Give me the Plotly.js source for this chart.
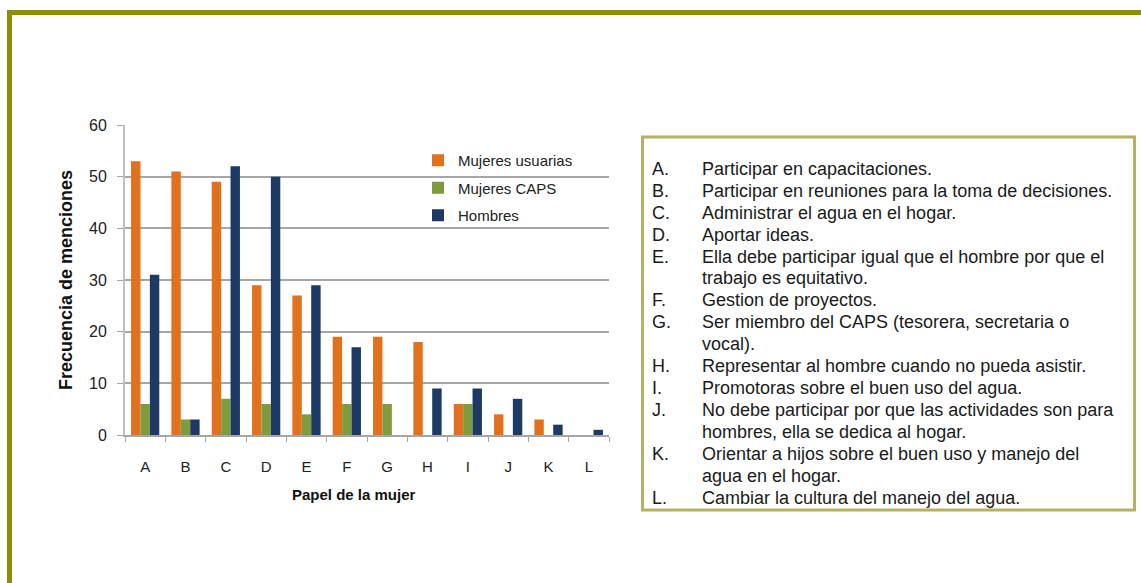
<!DOCTYPE html>
<html>
<head>
<meta charset="utf-8">
<script src="https://cdn.plot.ly/plotly-3.0.1.min.js"></script>
<style>html,body{margin:0;padding:0;background:#fff;}#chart{width:1141px;height:583px;}</style>
</head>
<body>
<div id="chart"></div>
<script>
// ---- data ----
const categories = ['A','B','C','D','E','F','G','H','I','J','K','L'];
const seriesNames = ['Mujeres usuarias','Mujeres CAPS','Hombres'];
const mujeresUsuarias = [53,51,49,29,27,19,19,18,6,4,3,0];
const mujeresCAPS     = [6,3,7,6,4,6,6,0,6,0,0,0];
const hombres         = [31,3,52,50,29,17,0,9,9,7,2,1];
const descriptions = [
  'Participar en capacitaciones.',
  'Participar en reuniones para la toma de decisiones.',
  'Administrar el agua en el hogar.',
  'Aportar ideas.',
  'Ella debe participar igual que el hombre por que el<br>trabajo es equitativo.',
  'Gestion de proyectos.',
  'Ser miembro del CAPS (tesorera, secretaria o<br>vocal).',
  'Representar al hombre cuando no pueda asistir.',
  'Promotoras sobre el buen uso del agua.',
  'No debe participar por que las actividades son para<br>hombres, ella se dedica al hogar.',
  'Orientar a hijos sobre el buen uso y manejo del<br>agua en el hogar.',
  'Cambiar la cultura del manejo del agua.'
];
const xTitle = 'Papel de la mujer';
const yTitle = 'Frecuencia de menciones';

// ---- layout helpers (pixel -> paper) ----
const W = 1141, H = 583;
const px = x => x / W;
const py = y => 1 - y / H;
const FONT = '"Liberation Sans", Arial, sans-serif';

const colors = ['#E2711D', '#7E9B3E', '#1C3A64'];
const values = [mujeresUsuarias, mujeresCAPS, hombres];

const traces = seriesNames.map((name, i) => ({
  type: 'bar',
  name: name,
  x: categories,
  y: values[i],
  legendgroup: 'g' + i,
  marker: {color: colors[i], line: {width: 0}},
  hoverinfo: 'x+y+name'
}));

// ---- text box annotations ----
const annotations = [];
let lineIdx = 0;
const firstLineY = 169, pitch = 21.9;
const boxFont = {family: FONT, size: 18, color: '#1a1a1a'};
categories.forEach((c, i) => {
  const lines = descriptions[i].split('<br>');
  annotations.push({
    xref: 'paper', yref: 'paper', x: px(650), y: py(firstLineY + lineIdx * pitch),
    xanchor: 'left', yanchor: 'middle', showarrow: false,
    text: c + '.', font: boxFont
  });
  lines.forEach(l => {
    annotations.push({
      xref: 'paper', yref: 'paper', x: px(700), y: py(firstLineY + lineIdx * pitch),
      xanchor: 'left', yanchor: 'middle', showarrow: false,
      text: l, font: boxFont
    });
    lineIdx++;
  });
});
// x-axis title (placed as in the original, slightly left of the plot centre)
annotations.push({
  xref: 'paper', yref: 'paper', x: px(354), y: py(494), xanchor: 'center', yanchor: 'middle',
  showarrow: false, text: '<b>' + xTitle + '</b>', font: {family: FONT, size: 15, color: '#111'}
});

const shapes = [
  // outer olive frame
  {type: 'line', xref: 'paper', yref: 'paper', x0: px(7), x1: 1.02, y0: py(12.5), y1: py(12.5),
   line: {color: '#8E8E06', width: 5}},
  {type: 'line', xref: 'paper', yref: 'paper', x0: px(9.5), x1: px(9.5), y0: py(10), y1: -0.02,
   line: {color: '#8E8E06', width: 5}},
  // legend text box
  {type: 'rect', xref: 'paper', yref: 'paper', x0: px(642.5), x1: px(1134.5), y0: py(137), y1: py(510),
   line: {color: '#B6B264', width: 3}, fillcolor: 'rgba(0,0,0,0)'}
];

const layout = {
  width: W, height: H,
  margin: {l: 0, r: 0, t: 0, b: 0},
  paper_bgcolor: '#ffffff', plot_bgcolor: '#ffffff',
  font: {family: FONT, color: '#222'},
  barmode: 'group', bargap: 0.3, bargroupgap: 0,
  showlegend: true,
  legend: {
    x: px(418), y: py(144), xanchor: 'left', yanchor: 'top',
    bgcolor: 'rgba(0,0,0,0)', borderwidth: 0,
    font: {family: FONT, size: 15, color: '#222'},
    traceorder: 'grouped', tracegroupgap: 5
  },
  xaxis: {
    domain: [px(125), px(609)],
    type: 'category', categoryorder: 'array', categoryarray: categories,
    showline: true, linecolor: '#A6A6A6', linewidth: 2,
    ticks: 'outside', tickson: 'boundaries', ticklen: 5, tickcolor: '#A6A6A6', tickwidth: 1,
    tickfont: {family: FONT, size: 15, color: '#222'},
    ticklabelstandoff: 17,
    showgrid: false, automargin: false
  },
  yaxis: {
    domain: [py(435), py(125)],
    range: [0, 60], dtick: 10, tick0: 0,
    showline: true, linecolor: '#C0C0C0', linewidth: 2,
    ticks: 'outside', ticklen: 6, tickcolor: '#A6A6A6', tickwidth: 1,
    tickfont: {family: FONT, size: 16, color: '#222'},
    ticklabelstandoff: 7,
    showgrid: true, gridcolor: '#A6A6A6', gridwidth: 2,
    zeroline: false, automargin: false,
    title: {text: '<b>' + yTitle + '</b>', font: {family: FONT, size: 18, color: '#111'}, standoff: 12}
  },
  shapes: shapes,
  annotations: annotations
};

Plotly.newPlot('chart', traces, layout, {displayModeBar: false, staticPlot: true});
</script>
</body>
</html>
